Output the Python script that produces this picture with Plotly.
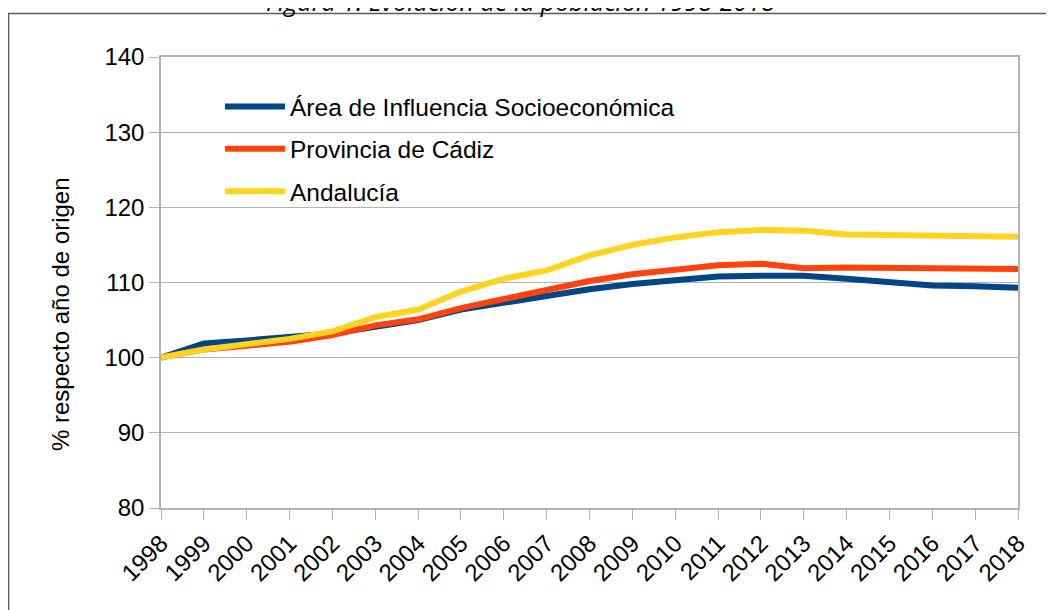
import plotly.graph_objects as go

years = list(range(1998, 2019))
area = [100.0, 101.9, 102.3, 102.7, 103.2, 104.1, 105.0, 106.4, 107.2, 108.2, 109.1,
        109.8, 110.3, 110.8, 110.9, 110.9, 110.5, 110.1, 109.6, 109.5, 109.3]
cadiz = [100.0, 101.1, 101.6, 102.1, 103.0, 104.3, 105.1, 106.6, 107.8, 109.0, 110.2,
         111.1, 111.7, 112.3, 112.5, 111.9, 112.0, 112.0, 112.0, 111.9, 111.8]
andalucia = [100.0, 101.1, 101.8, 102.5, 103.5, 105.4, 106.4, 108.8, 110.5, 111.6, 113.6,
             115.0, 116.0, 116.7, 117.0, 116.9, 116.4, 116.3, 116.2, 116.1, 116.1]
series_names = ["Área de Influencia Socioeconómica", "Provincia de Cádiz", "Andalucía"]
colors = ["#004586", "#ff420e", "#ffd320"]
title_text = "Figura 1. Evolución de la población 1998-2018"
y_title = "% respecto año de origen"

W, H = 1054, 610
OFF = 8  # page body margin
L, R, T, B = 161, 1018, 57, 508  # plot area in screen pixels
FONT = "Liberation Sans, Arial, sans-serif"
FS = 24

def px(x):
    return (x - L) / (R - L)

def py(y):
    return (B - y) / (B - T)

fig = go.Figure()
for i, (name, vals) in enumerate(zip(series_names, [area, cadiz, andalucia])):
    fig.add_trace(go.Scatter(x=years, y=vals, name=name, mode="lines",
                             line=dict(color=colors[i], width=6),
                             legendgroup=f"g{i}"))

ml, mt = L - OFF, T - OFF
mr = W - ml - (R - L)
mb = H - mt - (B - T)

fig.update_layout(
    width=W, height=H,
    margin=dict(l=ml, r=mr, t=mt, b=mb, pad=0),
    paper_bgcolor="white", plot_bgcolor="white",
    font=dict(family=FONT, size=FS, color="#000000"),
    showlegend=True,
    legend=dict(x=px(220), y=py(84), xanchor="left", yanchor="top",
                bgcolor="rgba(0,0,0,0)", font=dict(size=24.5, family=FONT),
                tracegroupgap=7.5, itemwidth=60),
    xaxis=dict(range=[1998, 2018], tickmode="array", tickvals=years,
               ticktext=[str(y) for y in years], tickangle=-45,
               showgrid=False, showline=True, linecolor="#b3b3b3", linewidth=1.5,
               mirror=True, ticks="outside", ticklen=10, tickcolor="#b3b3b3",
               tickfont=dict(size=FS), zeroline=False),
    yaxis=dict(range=[80, 140], tickmode="array", tickvals=[80, 90, 100, 110, 120, 130, 140],
               showgrid=True, gridcolor="#b3b3b3", gridwidth=1,
               showline=True, linecolor="#b3b3b3", linewidth=1.5, mirror=True,
               ticks="outside", ticklen=10, tickcolor="#b3b3b3",
               tickfont=dict(size=FS), zeroline=False),
    shapes=[dict(type="rect", xref="paper", yref="paper",
                 x0=px(8.5), x1=px(1070), y0=py(630), y1=py(13.5),
                 line=dict(color="#5a5a5a", width=1.5), layer="above")],
    annotations=[
        dict(text="<i>" + title_text + "</i>", xref="paper", yref="paper",
             x=px(520), y=py(20), xanchor="center", yanchor="bottom", showarrow=False,
             font=dict(family="Open Sans, sans-serif", size=25, color="#000000")),
        dict(text=y_title, xref="paper", yref="paper", x=px(60), y=py(314),
             xanchor="center", yanchor="middle", textangle=-90, showarrow=False,
             font=dict(family=FONT, size=FS, color="#000000")),
    ],
)

fig.write_html("out.html")
